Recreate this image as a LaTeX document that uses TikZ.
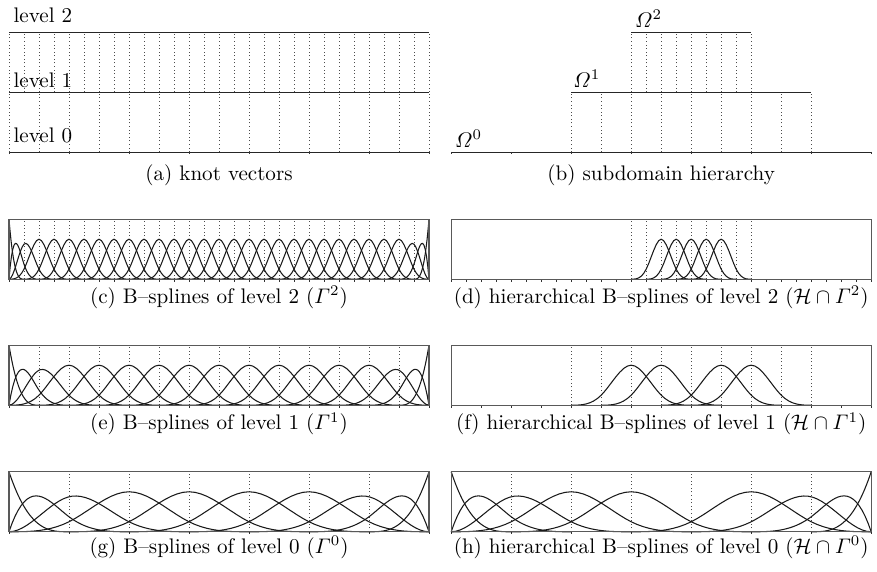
\documentclass[tikz,border=0pt]{standalone}
\usepackage{amsmath}
\usepackage{tikz}
\usetikzlibrary{positioning}

\begin{document}
\begin{tikzpicture}[
  declare function={
    cub(\s)=\s*\s*\s;
    bsu(\s)=(cub(max(0,2-abs(\s)))-4*cub(max(0,1-abs(\s))))/6;
    bsa(\s)=cub(max(0,1-\s));
    bsb(\s)=(\s<1)*(3*\s-4.5*\s*\s+1.75*cub(\s))+(\s>=1)*cub(max(0,2-\s))/4;
    bsc(\s)=(\s<1)*(1.5*\s*\s-11/12*cub(\s))
      +and(\s>=1,\s<2)*(-1.5+4.5*\s-3*\s*\s+7/12*cub(\s))
      +(\s>=2)*cub(max(0,3-\s))/6;
  },
  lvl/.style={line width=0.45pt, black!85},
  knot/.style={dash pattern=on 0.4pt off 1.3pt, line width=0.4pt, black!70},
  tick/.style={line width=0.4pt, black!80},
  frame/.style={draw=black!65, line width=0.5pt},
  spl/.style={line width=0.5pt, black!90, line join=round},
  lab/.style={anchor=base west, inner sep=0pt},
  captxt/.style={anchor=base}]
\useasboundingbox (0,0) rectangle (14.617,9.533);

% (a) knot vectors
\begin{scope}[shift={(0.15,7)}]
  \foreach \i in {0,...,28} \draw[knot] ({\i/4},1) -- ({\i/4},2);
  \foreach \i in {0,...,14} \draw[knot] ({\i/2},0) -- ({\i/2},1);
  \foreach \y in {0,1,2} \draw[lvl] (0,\y) -- (7,\y);
  \foreach \i in {0,...,7} \draw[tick] (\i,0) -- (\i,-0.04);
  \node[lab] (lev2) at (0.07,2.15) {level 2};
  \node[lab] (lev1) at (0.07,1.08) {level 1};
  \node[lab] (lev0) at (0.07,0.15) {level 0};
\end{scope}
\node[captxt] (capa) at (3.65,6.53) {(a) knot vectors};

% (b) subdomain hierarchy
\begin{scope}[shift={(7.52,7)}]
  \foreach \i in {4,...,12} \draw[knot] ({\i/2},0) -- ({\i/2},1);
  \foreach \i in {12,...,20} \draw[knot] ({\i/4},1) -- ({\i/4},2);
  \draw[lvl] (0,0) -- (7,0);
  \draw[lvl] (2,1) -- (6,1);
  \draw[lvl] (3,2) -- (5,2);
  \foreach \i in {0,...,7} \draw[tick] (\i,0) -- (\i,-0.04);
  \node[lab] (om0) at (0.06,0.08) {$\varOmega^0$};
  \node[lab] (om1) at (2.03,1.08) {$\varOmega^1$};
  \node[lab] (om2) at (3.06,2.08) {$\varOmega^2$};
\end{scope}
\node[captxt] (capb) at (11.02,6.53) {(b) subdomain hierarchy};

% (c) level 2
\begin{scope}[shift={(0.15,4.88)}]
  \foreach \i in {1,...,27} \draw[knot] ({\i/4},0) -- ({\i/4},1);
  \foreach \i in {0,...,28} \draw[tick] ({\i/4},0) -- ({\i/4},-0.04);
  \foreach \m in {2,...,26}
    \draw[spl] plot[domain={(\m-2)/4}:{(\m+2)/4}, samples=25] (\x,{bsu(4*\x-\m)});
  \foreach \f/\r in {bsa/1,bsb/2,bsc/3} {
    \draw[spl] plot[domain=0:{\r/4}, samples=25] (\x,{\f(4*\x)});
    \draw[spl] plot[domain={7-\r/4}:7, samples=25] (\x,{\f(4*(7-\x))});
  }
  \draw[frame] (0,0) rectangle (7,1);
\end{scope}
\node[captxt] (capc) at (3.65,4.48) {(c) B--splines of level 2 ($\varGamma^2$)};

% (d) hierarchical level 2
\begin{scope}[shift={(7.52,4.88)}]
  \foreach \i in {12,...,20} \draw[knot] ({\i/4},0) -- ({\i/4},1);
  \foreach \i in {0,...,28} \draw[tick] ({\i/4},0) -- ({\i/4},-0.04);
  \foreach \m in {14,...,18}
    \draw[spl] plot[domain={(\m-2)/4}:{(\m+2)/4}, samples=25] (\x,{bsu(4*\x-\m)});
  \draw[frame] (0,0) rectangle (7,1);
\end{scope}
\node[captxt] (capd) at (11.02,4.48) {(d) hierarchical B--splines of level 2 ($\mathcal{H}\cap\varGamma^2$)};

% (e) level 1
\begin{scope}[shift={(0.15,2.78)}]
  \foreach \i in {1,...,13} \draw[knot] ({\i/2},0) -- ({\i/2},1);
  \foreach \i in {0,...,14} \draw[tick] ({\i/2},0) -- ({\i/2},-0.04);
  \foreach \m in {2,...,12}
    \draw[spl] plot[domain={(\m-2)/2}:{(\m+2)/2}, samples=33] (\x,{bsu(2*\x-\m)});
  \foreach \f/\r in {bsa/1,bsb/2,bsc/3} {
    \draw[spl] plot[domain=0:{\r/2}, samples=33] (\x,{\f(2*\x)});
    \draw[spl] plot[domain={7-\r/2}:7, samples=33] (\x,{\f(2*(7-\x))});
  }
  \draw[frame] (0,0) rectangle (7,1);
\end{scope}
\node[captxt] (cape) at (3.65,2.37) {(e) B--splines of level 1 ($\varGamma^1$)};

% (f) hierarchical level 1
\begin{scope}[shift={(7.52,2.78)}]
  \foreach \i in {4,...,12} \draw[knot] ({\i/2},0) -- ({\i/2},1);
  \foreach \i in {0,...,14} \draw[tick] ({\i/2},0) -- ({\i/2},-0.04);
  \foreach \m in {6,7,9,10}
    \draw[spl] plot[domain={(\m-2)/2}:{(\m+2)/2}, samples=33] (\x,{bsu(2*\x-\m)});
  \draw[frame] (0,0) rectangle (7,1);
\end{scope}
\node[captxt] (capf) at (11.02,2.37) {(f) hierarchical B--splines of level 1 ($\mathcal{H}\cap\varGamma^1$)};

% (g) level 0
\begin{scope}[shift={(0.15,0.67)}]
  \foreach \i in {1,...,6} \draw[knot] (\i,0) -- (\i,1);
  \foreach \i in {0,...,7} \draw[tick] (\i,0) -- (\i,-0.04);
  \foreach \m in {2,...,5}
    \draw[spl] plot[domain=\m-2:\m+2, samples=41] (\x,{bsu(\x-\m)});
  \foreach \f/\r in {bsa/1,bsb/2,bsc/3} {
    \draw[spl] plot[domain=0:\r, samples=41] (\x,{\f(\x)});
    \draw[spl] plot[domain=7-\r:7, samples=41] (\x,{\f(7-\x)});
  }
  \draw[frame] (0,0) rectangle (7,1);
\end{scope}
\node[captxt] (capg) at (3.65,0.31) {(g) B--splines of level 0 ($\varGamma^0$)};

% (h) hierarchical level 0
\begin{scope}[shift={(7.52,0.67)}]
  \foreach \i in {1,...,6} \draw[knot] (\i,0) -- (\i,1);
  \foreach \i in {0,...,7} \draw[tick] (\i,0) -- (\i,-0.04);
  \foreach \m in {2,3,5}
    \draw[spl] plot[domain=\m-2:\m+2, samples=41] (\x,{bsu(\x-\m)});
  \foreach \f/\r in {bsa/1,bsb/2,bsc/3} {
    \draw[spl] plot[domain=0:\r, samples=41] (\x,{\f(\x)});
    \draw[spl] plot[domain=7-\r:7, samples=41] (\x,{\f(7-\x)});
  }
  \draw[frame] (0,0) rectangle (7,1);
\end{scope}
\node[captxt] (caph) at (11.02,0.31) {(h) hierarchical B--splines of level 0 ($\mathcal{H}\cap\varGamma^0$)};
\end{tikzpicture}
\end{document}
